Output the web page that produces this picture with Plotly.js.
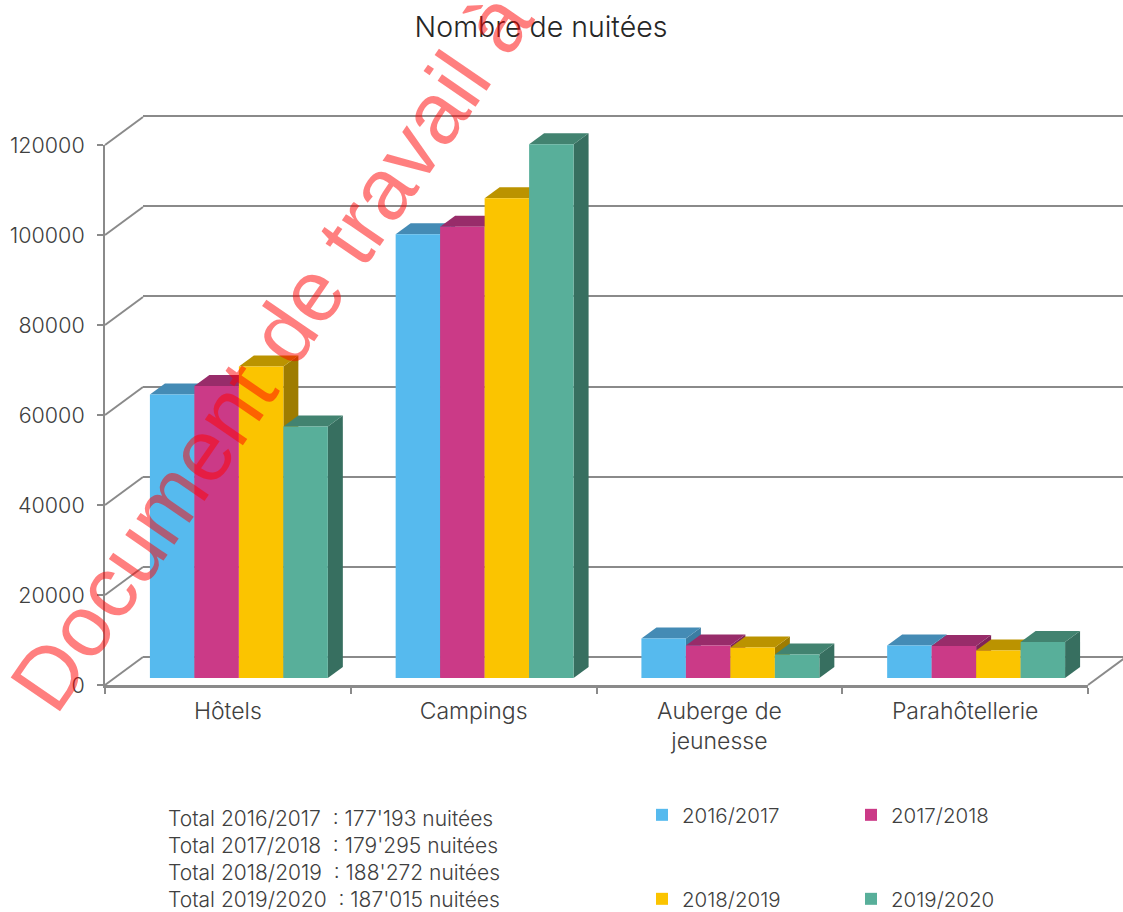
<!DOCTYPE html>
<html><head><meta charset="utf-8">
<script src="https://cdn.plot.ly/plotly-3.0.1.min.js"></script>
<style>html,body{margin:0;padding:0;background:#fff}</style></head>
<body><div id="chart" style="width:1123px;height:912px"></div>
<script>
const categories = ["Hôtels","Campings","Auberge de<br>jeunesse","Parahôtellerie"];
const seasons = ["2016/2017","2017/2018","2018/2019","2019/2020"];
const v2016 = [63000,98600,8800,7200];
const v2017 = [64900,100300,7200,7100];
const v2018 = [69200,106600,6800,6100];
const v2019 = [55900,118600,5200,8000];
const yTicks = [0,20000,40000,60000,80000,100000,120000];
const totalsText = ["Total 2016/2017  : 177'193 nuitées","Total 2017/2018  : 179'295 nuitées","Total 2018/2019  : 188'272 nuitées","Total 2019/2020  : 187'015 nuitées"];
const frontColors = ["#56BAEE","#CB3A87","#FBC400","#58AF9A"];
const topColors = ["#448BB5","#982C6A","#BB9300","#428370"];
const sideColors = ["#3C7CA2","#7F2459","#9E7C00","#376F60"];
const series = [v2016,v2017,v2018,v2019];

const W=1123,H=912, catPx=245.75, unitPx=0.0045, barGap=0.276;
const fx=p=>p/W, fy=p=>1-p/H;
const textCol="#404040", axisCol="#8A8A8A", font="Inter, Lato, sans-serif";
const bw=(1-barGap)/4, dx=15/catPx, dy=11/unitPx, barLeft=116;
const traces=[];

// back wall carrier, so that its gridlines are drawn
traces.push({type:"scatter",mode:"lines",x:[0],y:[0],xaxis:"x",yaxis:"y",line:{width:0},hoverinfo:"skip",showlegend:false});

// front axis carrier
traces.push({type:"scatter",mode:"lines",x:categories,y:categories.map(()=>0),xaxis:"x2",yaxis:"y2",
  line:{width:0},hoverinfo:"skip",showlegend:false});

// wall diagonals from front axis ticks to the back wall, plus floor edge (bar-plane units)
const ox=(105-barLeft)/catPx, oy=7/unitPx;  // front-wall plane relative to bar plane
const wx=38/catPx, wy=28/unitPx, dxs=[], dys=[];
const leftEdge=-0.5+ox;
yTicks.forEach(t=>{dxs.push(leftEdge,leftEdge+wx,null);dys.push(t-oy,t-oy+wy,null);});
dxs.push(leftEdge+4,leftEdge+4+wx);dys.push(-oy,-oy+wy);
traces.push({type:"scatter",mode:"lines",x:dxs,y:dys,xaxis:"x3",yaxis:"y3",
  line:{color:axisCol,width:2},hoverinfo:"skip",showlegend:false});

// depth faces, left to right
categories.forEach((c,ci)=>{series.forEach((vals,si)=>{
  const v=vals[ci], l=ci-(1-barGap)/2+si*bw, r=l+bw;
  traces.push({type:"scatter",mode:"lines",fill:"toself",xaxis:"x3",yaxis:"y3",
    x:[r,r+dx,r+dx,r,r],y:[0,dy,v+dy,v,0],fillcolor:sideColors[si],line:{width:0},hoverinfo:"skip",showlegend:false});
  traces.push({type:"scatter",mode:"lines",fill:"toself",xaxis:"x3",yaxis:"y3",
    x:[l,l+dx,r+dx,r,l],y:[v,v+dy,v+dy,v,v],fillcolor:topColors[si],line:{width:0},hoverinfo:"skip",showlegend:false});
});});

// front faces
series.forEach((vals,si)=>traces.push({type:"bar",name:seasons[si],x:categories.map((c,i)=>i),y:vals,
  xaxis:"x4",yaxis:"y4",marker:{color:frontColors[si],line:{width:0}},showlegend:false,
  hovertext:categories,hoverinfo:"name+y"}));

// legend entries
const legendNames=["legend","legend2","legend3","legend4"];
series.forEach((vals,si)=>traces.push({type:"scatter",mode:"markers",name:seasons[si],x:[null],y:[null],
  xaxis:"x4",yaxis:"y4",marker:{symbol:"square",size:12,color:frontColors[si]},legend:legendNames[si],showlegend:true,hoverinfo:"skip"}));

const legendAt=(x,y)=>({x:fx(x),y:fy(y),xanchor:"left",yanchor:"middle",bgcolor:"rgba(0,0,0,0)",borderwidth:0,
  font:{family:font,size:20.5,weight:300,color:textCol},itemwidth:30,itemclick:false,itemdoubleclick:false});

const barX={domain:[0,1],range:[-0.5-barLeft/catPx,-0.5+(W-barLeft)/catPx],visible:false};
const barY={domain:[0,1],range:[-(H-678)/unitPx,678/unitPx],visible:false};

const layout={
  width:W,height:H,margin:{l:0,r:0,t:0,b:0,autoexpand:false},paper_bgcolor:"#fff",plot_bgcolor:"rgba(0,0,0,0)",
  barmode:"group",bargap:barGap,bargroupgap:0,showlegend:true,
  title:{text:"Nombre de nuitées",x:fx(541),xanchor:"center",y:fy(27),yanchor:"middle",font:{family:font,size:28.5,weight:300,color:"#262626"}},
  xaxis:{domain:[fx(143),1],range:[0,(W-143)/catPx],visible:false,anchor:"y"},
  yaxis:{domain:[0,1],range:[-(H-657)/(541/120000),657/(541/120000)],anchor:"x",tickvals:yTicks,showgrid:true,gridcolor:axisCol,gridwidth:2,
    showticklabels:false,ticks:"",showline:false,zeroline:false},
  xaxis2:{domain:[fx(105),fx(1088)],type:"category",categoryorder:"array",categoryarray:categories,range:[-0.5,3.5],anchor:"y2",
    tickson:"boundaries",ticks:"outside",ticklen:6,tickwidth:2,tickcolor:axisCol,showline:true,linecolor:axisCol,linewidth:3,showgrid:false,
    tickfont:{family:font,size:23,weight:300,color:textCol},ticklabelstandoff:3},
  yaxis2:{domain:[fy(685),fy(145)],range:[0,120000],anchor:"x2",tickvals:yTicks,ticks:"outside",ticklen:6,tickwidth:2,tickcolor:axisCol,
    showline:true,linecolor:axisCol,linewidth:2,showgrid:false,zeroline:false,tickformat:"d",
    tickfont:{family:font,size:21.5,weight:300,color:textCol},ticklabelstandoff:8},
  xaxis3:Object.assign({anchor:"y3"},barX),
  yaxis3:Object.assign({anchor:"x3"},barY),
  xaxis4:Object.assign({anchor:"y4"},barX),
  yaxis4:Object.assign({anchor:"x4"},barY),
  legend:legendAt(642,815),legend2:legendAt(851,815),legend3:legendAt(642,899),legend4:legendAt(851,899),
  annotations:totalsText.map((t,i)=>({text:t,xref:"paper",yref:"paper",x:fx(166),y:fy(818+27*i),xanchor:"left",yanchor:"middle",showarrow:false,
    font:{family:font,size:21,weight:300,color:textCol}})).concat([
    {text:"Document de travail à",xref:"paper",yref:"paper",x:fx(270),y:fy(351),xanchor:"center",yanchor:"middle",showarrow:false,textangle:-55.5,
     font:{family:"'Liberation Sans', Arial, sans-serif",size:87,color:"rgba(255,0,0,0.5)"}}])
};
Plotly.newPlot("chart",traces,layout,{displayModeBar:false,staticPlot:true});
</script></body></html>
